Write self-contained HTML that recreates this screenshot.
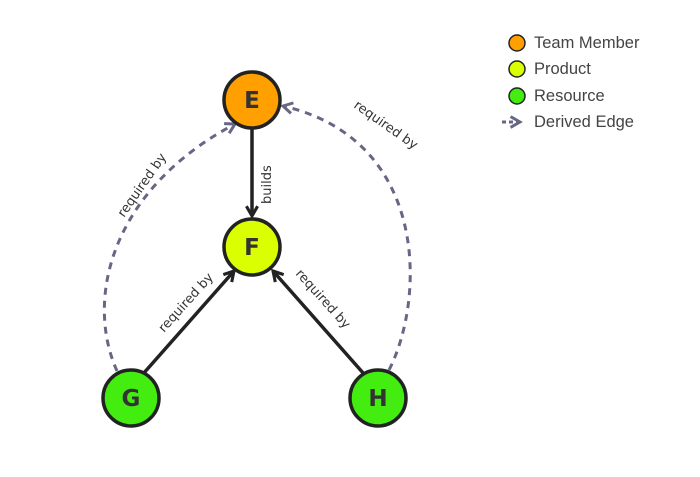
<!DOCTYPE html>
<html><head><meta charset="utf-8"><style>body{margin:0;background:#fff}svg{display:block}text{font-family:"DejaVu Sans","Liberation Sans",sans-serif}text.l{font-family:"Liberation Sans",sans-serif}</style></head><body>
<svg width="700" height="477" viewBox="0 0 700 477">
<defs>
<marker id="a" viewBox="0 0 10 10" refX="8" refY="5" markerWidth="4" markerHeight="4" orient="auto"><path d="M1,1 L8,5 L1,9" fill="none" stroke="#222" stroke-width="2.2"/></marker>
<marker id="d" viewBox="0 0 10 10" refX="8" refY="5" markerWidth="4.5" markerHeight="4.5" orient="auto"><path d="M1,1 L8,5 L1,9" fill="none" stroke="#676785" stroke-width="2.2"/></marker>
</defs>
<g fill="none" stroke-width="3" stroke-dasharray="7,6" stroke="#676785">
<path d="M117,371 C85,300 110,190 235,124" marker-end="url(#d)"/>
<path d="M389,370 C425,300 430,140 283,106" marker-end="url(#d)"/>
</g>
<g stroke="#222" stroke-width="3.5" fill="none">
<line x1="252" y1="128" x2="252" y2="216" marker-end="url(#a)"/>
<line x1="143" y1="374" x2="234" y2="271" marker-end="url(#a)"/>
<line x1="364" y1="374" x2="273" y2="271" marker-end="url(#a)"/>
</g>
<g fill="#333" font-size="13">
<text transform="translate(271,204) rotate(-90)">builds</text>
<text transform="translate(164,333) rotate(-48)">required by</text>
<text transform="translate(295,274) rotate(48)">required by</text>
<text transform="translate(124,218) rotate(-55)">required by</text>
<text transform="translate(353,107) rotate(35)">required by</text>
</g>
<g stroke="#222" stroke-width="3.5">
<circle cx="252" cy="100" r="28" fill="#ff9f00"/>
<circle cx="252" cy="247" r="28" fill="#d9ff00"/>
<circle cx="131" cy="398" r="28" fill="#42ed0f"/>
<circle cx="378" cy="398" r="28" fill="#42ed0f"/>
</g>
<g fill="#333" font-size="23" font-weight="bold" text-anchor="middle">
<text x="252" y="108">E</text><text x="252" y="255">F</text><text x="131" y="406">G</text><text x="378" y="406">H</text>
</g>
<g stroke="#222" stroke-width="1.5">
<circle cx="517" cy="43" r="8" fill="#ff9f00"/>
<circle cx="517" cy="69" r="8" fill="#d9ff00"/>
<circle cx="517" cy="96" r="8" fill="#42ed0f"/>
</g>
<line x1="502" y1="122" x2="520" y2="122" stroke="#676785" stroke-width="3" stroke-dasharray="4,3" marker-end="url(#d)"/>
<g fill="#444" font-size="16.5">
<text class="l" x="534" y="48">Team Member</text><text class="l" x="534" y="74">Product</text><text class="l" x="534" y="101">Resource</text><text class="l" x="534" y="127">Derived Edge</text>
</g>
</svg>
</body></html>
